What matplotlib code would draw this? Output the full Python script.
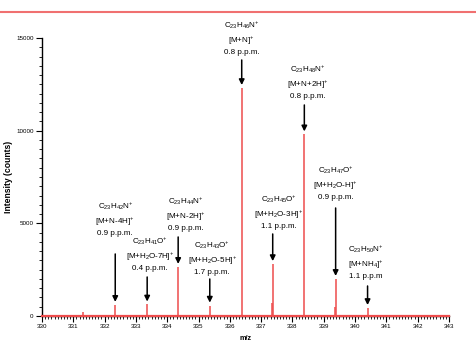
import matplotlib
matplotlib.use("Agg")
import matplotlib.pyplot as plt
from matplotlib.lines import Line2D
from matplotlib.ticker import MultipleLocator

plt.rcParams['font.family'] = ['Liberation Sans', 'DejaVu Sans']
plt.rcParams['mathtext.fontset'] = 'custom'
plt.rcParams['mathtext.rm'] = 'Liberation Sans'
plt.rcParams['mathtext.it'] = 'Liberation Sans:italic'
plt.rcParams['mathtext.bf'] = 'Liberation Sans:bold'

# Spectrum peaks (m/z, counts)
mz = [330.33, 331.32, 332.34, 333.36, 334.35, 335.36, 336.38,
      337.35, 337.37, 338.38, 339.36, 339.38, 340.40]
intensity = [60, 230, 600, 620, 2650, 560, 12300,
             700, 2800, 9800, 500, 2000, 430]

# Annotated ions
ion_mz = [336.38, 338.38, 339.38, 337.37, 340.40, 332.34, 333.36, 334.35, 335.36]
ion_peak = [12300, 9800, 2000, 2800, 430, 600, 620, 2650, 560]
formulas = [r'C$_{23}$H$_{46}$N$^{+}$', r'C$_{23}$H$_{48}$N$^{+}$', r'C$_{23}$H$_{47}$O$^{+}$',
            r'C$_{23}$H$_{45}$O$^{+}$', r'C$_{23}$H$_{50}$N$^{+}$', r'C$_{23}$H$_{42}$N$^{+}$',
            r'C$_{23}$H$_{41}$O$^{+}$', r'C$_{23}$H$_{44}$N$^{+}$', r'C$_{23}$H$_{43}$O$^{+}$']
adducts = [r'[M+N]$^{+}$', r'[M+N+2H]$^{+}$', r'[M+H$_2$O-H]$^{+}$',
           r'[M+H$_2$O-3H]$^{+}$', r'[M+NH$_4$]$^{+}$', r'[M+N-4H]$^{+}$',
           r'[M+H$_2$O-7H]$^{+}$', r'[M+N-2H]$^{+}$', r'[M+H$_2$O-5H]$^{+}$']
ppm = ['0.8 p.p.m.', '0.8 p.p.m.', '0.9 p.p.m.', '1.1 p.p.m.', '1.1 p.p.m',
       '0.9 p.p.m.', '0.4 p.p.m.', '0.9 p.p.m.', '1.7 p.p.m.']

# layout: (text x, text bottom, arrow tail) per label
label_layout = [(336.37, 14030, 13814), (338.49, 11655, 11386), (339.38, 6205, 5828),
                (337.56, 4640, 4425), (340.34, 1943, 1619), (332.34, 4263, 3346),
                (333.46, 2374, 2104), (334.58, 4533, 4263), (335.44, 2158, 1997)]

red = '#ee4c4c'

fig = plt.figure(figsize=(4.76, 3.45), dpi=100)
ax = fig.add_axes([0.0882, 0.0841, 0.8550, 0.8058])

ax.vlines(mz, 0, intensity, color=red, lw=1.1)
ax.plot([330, 343], [0, 0], color=red, lw=1.6, clip_on=False, zorder=3)

for i in range(len(ion_mz)):
    tx, tb, tail = label_layout[i]
    ax.annotate('', xy=(ion_mz[i], ion_peak[i] + 160), xytext=(ion_mz[i], tail),
                arrowprops=dict(arrowstyle='-|>', color='black', lw=1.1,
                                mutation_scale=8, shrinkA=0, shrinkB=0))
    ax.text(tx, tb, formulas[i] + '\n' + adducts[i] + '\n' + ppm[i],
            ha='center', va='bottom', fontsize=5.8, linespacing=1.45,
            multialignment='center')

ax.set_xlim(330, 343)
ax.set_ylim(0, 15000)
ax.xaxis.set_major_locator(MultipleLocator(1))
ax.xaxis.set_minor_locator(MultipleLocator(0.1))
ax.yaxis.set_major_locator(MultipleLocator(5000))
ax.yaxis.set_minor_locator(MultipleLocator(500))
ax.tick_params(which='major', direction='out', length=4, width=0.8, labelsize=4.5, pad=2)
ax.tick_params(which='minor', direction='out', length=2, width=0.6)
for s in ['top', 'right']:
    ax.spines[s].set_visible(False)
ax.spines['left'].set_linewidth(1.0)
ax.spines['bottom'].set_linewidth(1.0)

ax.set_xlabel('m/z', fontsize=5.2, fontweight='bold', labelpad=4)
ax.set_ylabel('Intensity (counts)', fontsize=6.2, fontweight='bold', labelpad=2)

fig.add_artist(Line2D([0, 1], [0.965, 0.965], transform=fig.transFigure,
                      color='#f07070', lw=1.5))

fig.savefig('out.png', dpi=100)
